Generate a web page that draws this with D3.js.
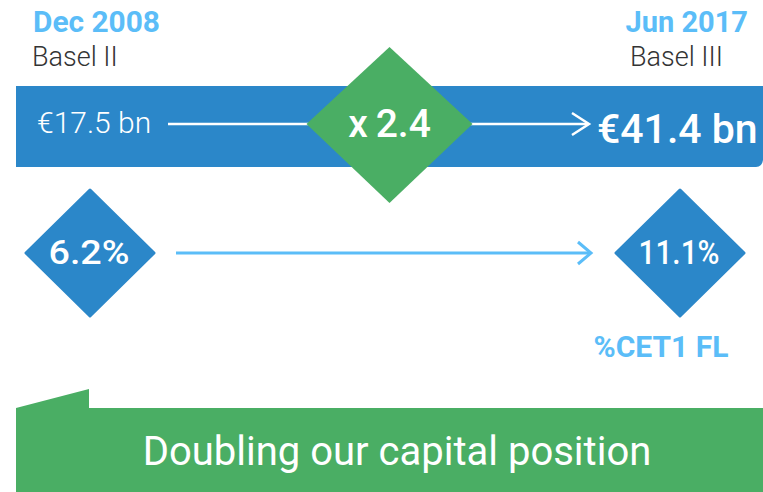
<!DOCTYPE html>
<html><head><meta charset="utf-8">
<script src="https://cdn.jsdelivr.net/npm/d3@7"></script>
<style>body{margin:0;background:#fff}svg{display:block}</style>
</head><body>
<svg id="c" width="763" height="492"></svg>
<script>
const periods = ["Dec 2008", "Jun 2017"];
const regimes = ["Basel II", "Basel III"];
const capitalBn = [17.5, 41.4];
const cet1Pct = [6.2, 11.1];
const multiplier = [2.4];
const metricLabel = ["%CET1 FL"];
const headline = ["Doubling our capital position"];

const W = 763, H = 492;
const blue = "#2b87c9", green = "#4aae64", light = "#5bbdf8", dark = "#333333";
const font = "Roboto, 'Open Sans', sans-serif";
const svg = d3.select("#c");

const x = d3.scalePoint().domain(periods).range([90, 680]);

// Header labels
svg.append("text").attr("x", 33).attr("y", 32).attr("fill", light)
  .attr("font-family", font).attr("font-weight", 700).attr("font-size", 29)
  .attr("textLength", 127).attr("lengthAdjust", "spacingAndGlyphs").text(periods[0]);
svg.append("text").attr("x", 748).attr("y", 32).attr("text-anchor", "end").attr("fill", light)
  .attr("font-family", font).attr("font-weight", 700).attr("font-size", 29).text(periods[1]);
svg.append("text").attr("x", 32).attr("y", 66).attr("fill", dark)
  .attr("font-family", font).attr("font-weight", 300).attr("font-size", 27).text(regimes[0]);
svg.append("text").attr("x", 630).attr("y", 66).attr("fill", dark)
  .attr("font-family", font).attr("font-weight", 300).attr("font-size", 27).text(regimes[1]);

// Blue band
svg.append("path").attr("fill", blue)
  .attr("d", "M16,86 H763 V160 Q762,167 756,167 H16 Z");

const bandY = 124;
const cx = 389.5;

svg.append("line").attr("x1", 168).attr("x2", cx - 80).attr("y1", bandY).attr("y2", bandY)
  .attr("stroke", "#fff").attr("stroke-width", 2.5);
svg.append("line").attr("x1", cx + 80).attr("x2", 588).attr("y1", bandY).attr("y2", bandY)
  .attr("stroke", "#fff").attr("stroke-width", 2.5);
svg.append("path").attr("d", `M572,${bandY-11} L589,${bandY} L572,${bandY+11}`)
  .attr("fill", "none").attr("stroke", "#fff").attr("stroke-width", 2.5);

// Green multiplier diamond
svg.append("path").attr("fill", green)
  .attr("d", `M${cx},47 L${cx+83},${bandY} L${cx},203 L${cx-83},${bandY} Z`);
svg.append("text").attr("x", cx).attr("y", 137).attr("text-anchor", "middle").attr("fill", "#fff")
  .attr("font-family", font).attr("font-weight", 500).attr("font-size", 39)
  .text("x\u2009" + multiplier[0].toFixed(1));

svg.append("text").attr("x", 37).attr("y", 133).attr("fill", "#fff")
  .attr("font-family", font).attr("font-weight", 300).attr("font-size", 30)
  .text("€" + capitalBn[0].toFixed(1) + " bn");
svg.append("text").attr("x", 597).attr("y", 143).attr("fill", "#fff")
  .attr("font-family", font).attr("font-weight", 500).attr("font-size", 41)
  .text("€" + capitalBn[1].toFixed(1) + " bn");

// CET1 diamonds
const dy = 253;
svg.selectAll("path.cet").data(cet1Pct).join("path").attr("class", "cet")
  .attr("fill", blue).attr("stroke", blue).attr("stroke-width", 3).attr("stroke-linejoin", "round")
  .attr("d", (d, i) => { const c = x(periods[i]); return `M${c},190 L${c+64},${dy} L${c},316 L${c-64},${dy} Z`; });
svg.selectAll("text.cet").data(cet1Pct).join("text").attr("class", "cet")
  .attr("x", (d, i) => x(periods[i]) - 1).attr("y", 264).attr("text-anchor", "middle").attr("fill", "#fff")
  .attr("font-family", font).attr("font-weight", 500).attr("font-size", 34)
  .attr("textLength", 81).attr("lengthAdjust", "spacingAndGlyphs")
  .text(d => d.toFixed(1) + "%");

svg.append("line").attr("x1", 176).attr("x2", 590).attr("y1", dy).attr("y2", dy)
  .attr("stroke", light).attr("stroke-width", 3);
svg.append("path").attr("d", `M578,${dy-11} L591,${dy} L578,${dy+11}`)
  .attr("fill", "none").attr("stroke", light).attr("stroke-width", 3);

svg.append("text").attr("x", 661).attr("y", 357).attr("text-anchor", "middle").attr("fill", light)
  .attr("font-family", font).attr("font-weight", 700).attr("font-size", 30).text(metricLabel[0]);

// Bottom banner
svg.append("path").attr("fill", green)
  .attr("d", "M16,408 L89,389 L89,408 L763,408 L763,492 L16,492 Z");
svg.append("text").attr("x", 397).attr("y", 465).attr("text-anchor", "middle").attr("fill", "#fff")
  .attr("font-family", font).attr("font-weight", 400).attr("font-size", 40).text(headline[0]);
</script>
</body></html>
